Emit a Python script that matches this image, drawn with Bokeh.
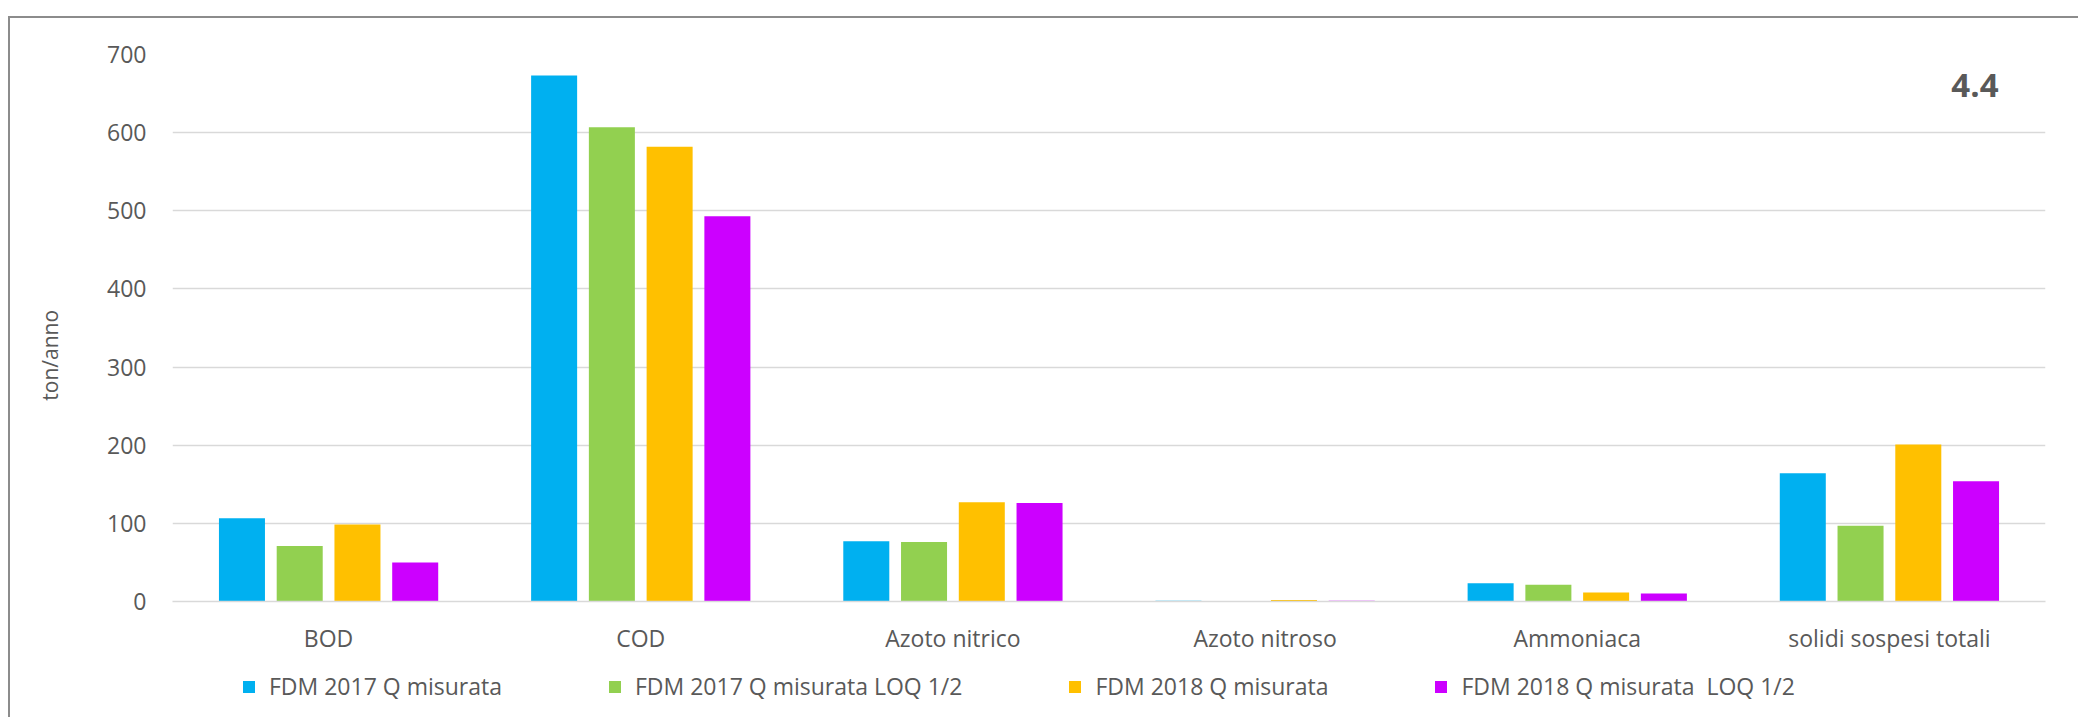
from bokeh.plotting import figure
from bokeh.layouts import column
from bokeh.models import ColumnDataSource, FactorRange, Range1d, Legend, LegendItem, Label, FixedTicker
from bokeh.transform import dodge
from bokeh.embed import file_html
from bokeh.resources import INLINE

categories = ["BOD", "COD", "Azoto nitrico", "Azoto nitroso", "Ammoniaca", "solidi sospesi totali"]
fdm_2017 = [106.5, 673, 77, 0.8, 23.5, 164]
fdm_2017_loq = [71, 607, 76, 0.3, 21.5, 97]
fdm_2018 = [98.5, 582, 127, 1.8, 11.5, 201]
fdm_2018_loq = [50, 493, 126, 0.9, 10.3, 154]
series_names = ["FDM 2017 Q misurata", "FDM 2017 Q misurata LOQ 1/2",
                "FDM 2018 Q misurata", "FDM 2018 Q misurata  LOQ 1/2"]
y_ticks = [0, 100, 200, 300, 400, 500, 600, 700]
y_label = "ton/anno"
panel_tag = "4.4"

colors = ["#00B0F0", "#92D050", "#FFC000", "#CC00FF"]
cols = ["s0", "s1", "s2", "s3"]
offsets = [-0.2775, -0.0925, 0.0925, 0.2775]
FONT = "Open Sans"
TXT = "#595959"
EDGE = "#8c8c8c"
W = 2078

source = ColumnDataSource(dict(cat=categories, s0=fdm_2017, s1=fdm_2017_loq, s2=fdm_2018, s3=fdm_2018_loq))

p = figure(x_range=FactorRange(*categories), y_range=Range1d(0, 700),
           frame_width=1873, frame_height=547,
           min_border_left=172, min_border_right=W - 172 - 1873, min_border_top=54, min_border_bottom=56,
           output_backend="svg", toolbar_location=None)
p.outline_line_color = None
p.background_fill_color = "white"
p.border_fill_color = None

for i, col in enumerate(cols):
    p.vbar(x=dodge("cat", offsets[i], range=p.x_range), top=col, width=0.1474,
           source=source, fill_color=colors[i], line_color=None)

p.xgrid.grid_line_color = None
p.ygrid.grid_line_color = "#D9D9D9"
p.ygrid.grid_line_width = 1.3

p.yaxis.ticker = FixedTicker(ticks=y_ticks)
p.yaxis.axis_line_color = None
p.yaxis.major_tick_line_color = None
p.yaxis.minor_tick_line_color = None
p.yaxis.major_tick_out = 0
p.yaxis.major_tick_in = 0
p.yaxis.major_label_standoff = 26
p.yaxis.major_label_text_font = FONT
p.yaxis.major_label_text_font_size = "23px"
p.yaxis.major_label_text_color = TXT
p.yaxis.axis_label = y_label + "\u00a0" * 10
p.yaxis.axis_label_text_font = FONT
p.yaxis.axis_label_text_font_size = "21px"
p.yaxis.axis_label_text_font_style = "normal"
p.yaxis.axis_label_text_color = TXT
p.yaxis.axis_label_standoff = 40

p.xaxis.axis_line_color = "#D9D9D9"
p.xaxis.axis_line_width = 1.5
p.xaxis.major_tick_line_color = None
p.xaxis.minor_tick_line_color = None
p.xaxis.major_tick_out = 0
p.xaxis.major_tick_in = 0
p.xaxis.major_label_standoff = 20
p.xaxis.major_label_text_font = FONT
p.xaxis.major_label_text_font_size = "23px"
p.xaxis.major_label_text_color = TXT

tag = Label(x=1826, y=516, x_units="screen", y_units="screen", text=panel_tag,
            text_align="right", text_baseline="middle", text_font=FONT,
            text_font_size="33px", text_font_style="bold", text_color=TXT)
p.add_layout(tag)

# legend strip below the chart: hidden renderers of the same data feed the legend swatches
pl = figure(x_range=p.x_range, y_range=Range1d(0, 700), width=W, height=60,
            min_border=0, x_axis_type=None, y_axis_type=None,
            output_backend="svg", toolbar_location=None)
pl.outline_line_color = None
pl.background_fill_color = None
pl.border_fill_color = None
pl.grid.grid_line_color = None
proxies = []
for i, col in enumerate(cols):
    r = pl.vbar(x=dodge("cat", offsets[i], range=p.x_range), top=col, width=0.1474,
                source=source, fill_color=colors[i], line_color=None)
    r.visible = False
    proxies.append(r)

legend = Legend(items=[LegendItem(label=series_names[i], renderers=[proxies[i]]) for i in range(4)],
                orientation="horizontal", location=(69, 15),
                glyph_width=15, glyph_height=15, label_standoff=13, spacing=105,
                padding=0, margin=0, border_line_color=None, background_fill_alpha=0,
                inactive_fill_alpha=0,
                label_text_font=FONT, label_text_font_size="23px", label_text_color=TXT)
pl.add_layout(legend, "center")

lay = column(p, pl, spacing=0)
lay.styles = {
    "background": (f"linear-gradient({EDGE},{EDGE}) 8px 16px / 2px calc(100% - 16px) no-repeat, "
                   f"linear-gradient({EDGE},{EDGE}) 8px 16px / calc(100% - 8px) 2px no-repeat, white"),
}

open("out.html", "w").write(file_html(lay, INLINE))
